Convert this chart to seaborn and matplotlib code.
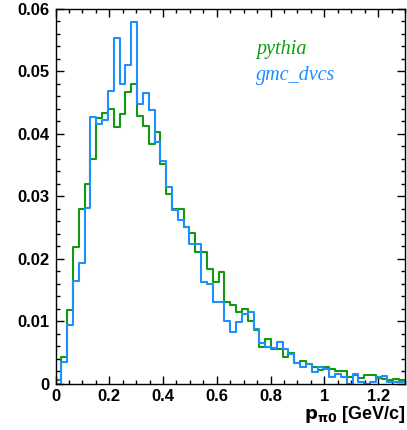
import numpy as np
import pandas as pd
import matplotlib
matplotlib.use("Agg")
import matplotlib.pyplot as plt
from matplotlib.ticker import MultipleLocator
import seaborn as sns

# --- datos (contenido por bin, 60 bins entre 0 y 1.3 GeV/c) ---
x_min, x_max, n_bins = 0.0, 1.3, 60

pythia = [0.0005, 0.0043, 0.0117, 0.0219, 0.0280, 0.0320, 0.0360, 0.0425, 0.0433, 0.0440,
          0.0411, 0.0432, 0.0466, 0.0480, 0.0428, 0.0412, 0.0384, 0.0402, 0.0351, 0.0304,
          0.0279, 0.0279, 0.0251, 0.0241, 0.0211, 0.0211, 0.0184, 0.0162, 0.0178, 0.0130,
          0.0126, 0.0114, 0.0119, 0.0100, 0.0086, 0.0058, 0.0072, 0.0055, 0.0055, 0.0042,
          0.0049, 0.0033, 0.0036, 0.0031, 0.0027, 0.0022, 0.0026, 0.0024, 0.0020, 0.0020,
          0.0011, 0.0013, 0.0009, 0.0014, 0.0014, 0.0009, 0.0008, 0.0006, 0.0007, 0.0006]

gmc_dvcs = [0.0000, 0.0035, 0.0094, 0.0164, 0.0193, 0.0281, 0.0426, 0.0415, 0.0422, 0.0468,
            0.0553, 0.0479, 0.0510, 0.0578, 0.0448, 0.0465, 0.0438, 0.0387, 0.0356, 0.0314,
            0.0278, 0.0262, 0.0250, 0.0224, 0.0224, 0.0163, 0.0160, 0.0131, 0.0131, 0.0100,
            0.0083, 0.0099, 0.0112, 0.0114, 0.0087, 0.0065, 0.0059, 0.0057, 0.0067, 0.0055,
            0.0047, 0.0033, 0.0026, 0.0031, 0.0019, 0.0027, 0.0024, 0.0011, 0.0016, 0.0010,
            0.0000, 0.0016, 0.0003, 0.0000, 0.0002, 0.0010, 0.0012, 0.0003, 0.0003, 0.0003]

labels = ["pythia", "gmc_dvcs"]
colors = {"pythia": "#119a11", "gmc_dvcs": "#1f8fff"}
xtick_labels = ["0", "0.2", "0.4", "0.6", "0.8", "1", "1.2"]
ytick_labels = ["0", "0.01", "0.02", "0.03", "0.04", "0.05", "0.06"]

edges = np.linspace(x_min, x_max, n_bins + 1)
centers = 0.5 * (edges[:-1] + edges[1:])

df = pd.concat([
    pd.DataFrame({"p": centers, "w": pythia, "sample": "pythia"}),
    pd.DataFrame({"p": centers, "w": gmc_dvcs, "sample": "gmc_dvcs"}),
], ignore_index=True)

sns.set_style("ticks", {"axes.edgecolor": "black", "text.color": "black",
                        "xtick.color": "black", "ytick.color": "black",
                        "axes.labelcolor": "black"})
plt.rcParams["font.family"] = ["Liberation Sans", "DejaVu Sans"]

fig = plt.figure(figsize=(4.07, 4.30), dpi=100)
ax = fig.add_axes([0.1364, 0.108, 0.8586, 0.872])

for name in labels:
    sns.histplot(data=df[df["sample"] == name], x="p", weights="w",
                 binwidth=(x_max - x_min) / n_bins, binrange=(x_min, x_max),
                 element="step", fill=False, color=colors[name], linewidth=1.5,
                 ax=ax)

ax.xaxis.set_minor_locator(MultipleLocator(0.05))
ax.yaxis.set_minor_locator(MultipleLocator(0.002))
ax.set_xticks([0, 0.2, 0.4, 0.6, 0.8, 1.0, 1.2])
ax.set_xticklabels(xtick_labels)
ax.set_yticks([0, 0.01, 0.02, 0.03, 0.04, 0.05, 0.06])
ax.set_yticklabels(ytick_labels)
ax.set_xlim(x_min, x_max)
ax.set_ylim(0, 0.06)

ax.tick_params(which="both", direction="in", top=True, right=True, width=1,
               color="black", labelcolor="black")
ax.tick_params(which="major", length=6, labelsize=12, pad=4)
ax.tick_params(which="minor", length=3)
for lab in ax.get_xticklabels() + ax.get_yticklabels():
    lab.set_fontweight("bold")
for s in ax.spines.values():
    s.set_linewidth(1.0)
    s.set_color("black")

ax.set_xlabel("")
ax.set_ylabel("")
fig.text(0.995, 0.036, r"$\mathbf{p_{\pi0}}$ [GeV/c]", ha="right", va="center",
         fontsize=13, fontweight="bold", color="black")

# leyenda como texto
ax.text(0.573, 0.89, "pythia", transform=ax.transAxes, color=colors["pythia"],
        family=["Liberation Serif"], style="italic", fontsize=14.5, va="center")
ax.text(0.573, 0.822, "gmc_dvcs", transform=ax.transAxes, color=colors["gmc_dvcs"],
        family=["Liberation Serif"], style="italic", fontsize=14.5, va="center")

fig.savefig("out.png", dpi=100)
